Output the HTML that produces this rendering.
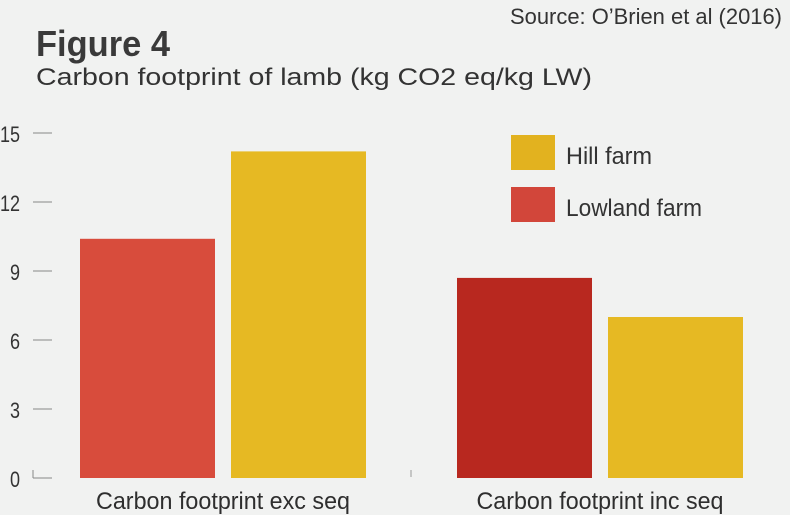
<!DOCTYPE html>
<html><head><meta charset="utf-8"><style>
html,body{margin:0;padding:0;background:#f1f2f1;}
svg{display:block;font-family:"Liberation Sans Narrow","Liberation Sans",sans-serif;}
</style></head><body>
<svg id="c" width="790" height="515" viewBox="0 0 790 515">
<rect width="790" height="515" fill="#f1f2f1"/>
<text x="510" y="24" font-size="22" fill="#333" textLength="272" lengthAdjust="spacingAndGlyphs">Source: O’Brien et al (2016)</text>
<text x="36" y="56" font-size="36" font-weight="bold" fill="#3a3a3a" textLength="134" lengthAdjust="spacingAndGlyphs">Figure 4</text>
<text x="36" y="85" font-size="24" fill="#333" textLength="556" lengthAdjust="spacingAndGlyphs">Carbon footprint of lamb (kg CO2 eq/kg LW)</text>
<g id="axis"></g>
<g id="bars"></g>
<line x1="411" y1="470" x2="411" y2="477" stroke="#999" stroke-width="1"/>
<g>
<rect x="511" y="135" width="44" height="35" fill="#e2b21f"/>
<text x="566" y="164" font-size="24" fill="#333" textLength="86" lengthAdjust="spacingAndGlyphs">Hill farm</text>
<rect x="511" y="187" width="44" height="35" fill="#d2463a"/>
<text x="566" y="216" font-size="24" fill="#333" textLength="136" lengthAdjust="spacingAndGlyphs">Lowland farm</text>
</g>
</svg>
<script>
const categories = ["Carbon footprint exc seq", "Carbon footprint inc seq"];
const lowland = [10.4, 8.7];
const hill = [14.2, 7.0];
const ticks = [0, 3, 6, 9, 12, 15];

const NS = "http://www.w3.org/2000/svg";
const y0 = 478, y15 = 133, yMax = 15;
const y = v => y0 - (y0 - y15) * v / yMax;
const groupStart = [80, 457];
const bw = 135, gap = 16;
const labelW = [254, 247];

function mk(tag, attrs, parent) {
  const e = document.createElementNS(NS, tag);
  for (const k in attrs) e.setAttribute(k, attrs[k]);
  parent.appendChild(e);
  return e;
}
const axis = document.getElementById('axis');
ticks.forEach(t => {
  const ty = y(t);
  const l = mk('line', {x1: 33, x2: 52, y1: ty, y2: ty, stroke: '#888', 'stroke-width': 1}, axis);
  
  
  const tx = mk('text', {x: 20, y: ty + 9, 'text-anchor': 'end', 'font-size': 22, fill: '#333', transform: 'translate(20 0) scale(0.82 1) translate(-20 0)'}, axis);
  tx.textContent = t;
  
  
});
const zl = mk('line', {x1: 33, x2: 33, y1: y(0) - 8, y2: y(0), stroke: '#888', 'stroke-width': 1}, axis);



const bars = document.getElementById('bars');
categories.forEach((c, i) => {
  const x0 = groupStart[i];
  const lowColor = i === 0 ? '#d84c3c' : '#b8281f';
  const r1 = mk('rect', {x: x0, y: y(lowland[i]), width: bw, height: y0 - y(lowland[i]), fill: lowColor}, bars);
  
  
  const r2 = mk('rect', {x: x0 + bw + gap, y: y(hill[i]), width: bw, height: y0 - y(hill[i]), fill: '#e6b923'}, bars);
  
  
  const cx = x0 + bw + gap / 2;
  const t = mk('text', {x: cx - labelW[i] / 2, y: 509, 'font-size': 24, fill: '#2e2e2e', textLength: labelW[i], lengthAdjust: 'spacingAndGlyphs'}, bars);
  t.textContent = c;
  
  
});
</script>
</body></html>
